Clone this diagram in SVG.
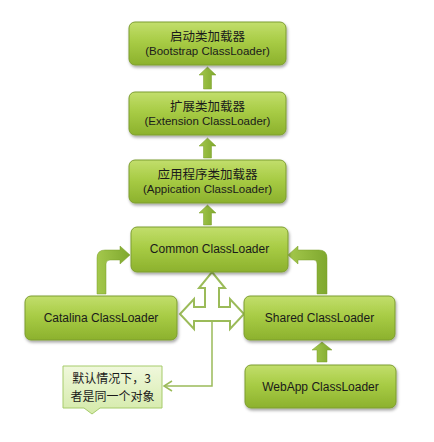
<svg xmlns="http://www.w3.org/2000/svg" width="434" height="442" viewBox="0 0 434 442">
<defs>
<linearGradient id="gBox" x1="0" y1="0" x2="0" y2="1">
<stop offset="0" stop-color="#c2de6c"/>
<stop offset="0.45" stop-color="#a8cc45"/>
<stop offset="1" stop-color="#8cb12d"/>
</linearGradient>
<linearGradient id="gArrow" x1="0" y1="0" x2="1" y2="0">
<stop offset="0" stop-color="#a4c84c"/>
<stop offset="1" stop-color="#7fa82e"/>
</linearGradient>
<linearGradient id="gNote" x1="0" y1="0" x2="0" y2="1">
<stop offset="0" stop-color="#f0f8dc"/>
<stop offset="1" stop-color="#d4eaa9"/>
</linearGradient>
<filter id="sh" x="-10%" y="-20%" width="125%" height="150%">
<feDropShadow dx="1" dy="2" stdDeviation="1.5" flood-color="#000" flood-opacity="0.35"/>
</filter>
</defs>
<style>
.box{fill:url(#gBox);stroke:#7d9d30;stroke-width:1;filter:url(#sh)}
.arr{fill:url(#gArrow);stroke:#7a9e2a;stroke-width:0.5}
.t{font-family:"Liberation Sans","Noto Sans CJK SC",sans-serif;font-size:12px;fill:#1a1a1a;text-anchor:middle}
.s{font-size:11.5px}
.cjk{font-family:"Noto Sans CJK SC",sans-serif;font-size:12.5px}
.nt{font-family:"Noto Sans CJK SC",sans-serif;font-size:12px}
.out{fill:#fff;stroke:#9bbb59;stroke-width:2;stroke-linejoin:miter}
.ln{fill:none;stroke:#9bbb59;stroke-width:1.5}
</style>
<rect width="434" height="442" fill="#fff"/>
<g id="connectors">
<path class="arr" d="M203.5,89 V75 H199 L207.5,67 L216,75 H211.5 V89 Z"/>
<path class="arr" d="M203.5,158 V146 H199 L207.5,138 L216,146 H211.5 V158 Z"/>
<path class="arr" d="M203.5,225 V213 H199 L207.5,205 L216,213 H211.5 V225 Z"/>
<path class="arr" d="M317,362 V350 H312 L322,342 L332,350 H327 V362 Z"/>
<path class="arr" d="M97,294 V258 Q97,250 105,250 H120 V246 L130,255 L120,264 V260 H110 Q106,260 106,264 V294 Z"/>
<path class="arr" d="M327,294 V258 Q327,250 319,250 H298 V246 L288,255 L298,264 V260 H314 Q317,260 317,264 V294 Z"/>
<path class="out" d="M212,272 L225,288 H219 V307 H230 V299 L244,314 L230,329 V321 H194 V329 L180,314 L194,299 V307 H205 V288 H199 Z"/>
<path class="ln" d="M212,321 V386 H164"/>
<polyline class="ln" points="172,381 164,386 172,391"/>
</g>
<g id="bootstrap">
<rect class="box" x="129" y="22" width="157" height="43" rx="6"/>
<text class="t cjk" x="207.5" y="41">启动类加载器</text>
<text class="t s" x="207.5" y="55">(Bootstrap ClassLoader)</text>
</g>
<g id="extension">
<rect class="box" x="129" y="92" width="157" height="43" rx="6"/>
<text class="t cjk" x="207.5" y="111">扩展类加载器</text>
<text class="t s" x="207.5" y="125">(Extension ClassLoader)</text>
</g>
<g id="application">
<rect class="box" x="129" y="160" width="157" height="43" rx="6"/>
<text class="t cjk" x="207.5" y="179">应用程序类加载器</text>
<text class="t s" x="207.5" y="193">(Appication ClassLoader)</text>
</g>
<g id="common">
<rect class="box" x="131" y="227" width="157" height="45" rx="6"/>
<text class="t" x="209.5" y="253">Common ClassLoader</text>
</g>
<g id="catalina">
<rect class="box" x="25" y="296" width="152" height="44" rx="6"/>
<text class="t" x="101" y="322">Catalina ClassLoader</text>
</g>
<g id="shared">
<rect class="box" x="244" y="296" width="151" height="44" rx="6"/>
<text class="t" x="319.5" y="322">Shared ClassLoader</text>
</g>
<g id="webapp">
<rect class="box" x="245" y="365" width="151" height="43" rx="6"/>
<text class="t" x="320.5" y="391">WebApp ClassLoader</text>
</g>
<g id="note">
<path d="M63,366 H162 V408 H100 L92,414 L84,408 H63 Z" fill="url(#gNote)" stroke="#a6cb6a" stroke-width="1"/>
<text class="t nt" x="111.5" y="383">默认情况下，3</text>
<text class="t nt" x="112.5" y="401">者是同一个对象</text>
</g>
</svg>
